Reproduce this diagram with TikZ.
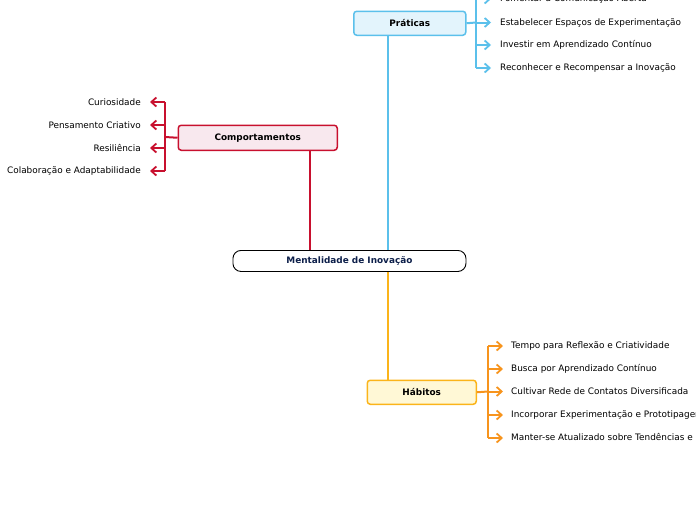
\documentclass[tikz,border=0pt]{standalone}
\usepackage{fontspec}
\setmainfont{DejaVu Sans}
\usetikzlibrary{arrows.meta}
\definecolor{blueC}{HTML}{5BC0EB}
\definecolor{blueF}{HTML}{E3F4FC}
\definecolor{redC}{HTML}{C8102E}
\definecolor{redF}{HTML}{F8E8EE}
\definecolor{goldC}{HTML}{FBB41A}
\definecolor{goldF}{HTML}{FFF8D6}
\definecolor{orangeC}{HTML}{F7941D}
\definecolor{navy}{HTML}{0D1F4A}
\tikzset{
  topic/.style={draw, line width=1.5pt, rounded corners=3pt, font=\fontsize{8.9}{10}\selectfont\bfseries, inner sep=0pt, anchor=north west},
  leaf/.style={font=\fontsize{8.9}{10}\selectfont, inner sep=0pt},
  conn/.style={line width=2pt},
  arr/.style={line width=2pt, -{Straight Barb[length=5pt,width=9pt,line width=1.8pt]}},
}
\begin{document}
\begin{tikzpicture}[x=1pt,y=-1pt]
\useasboundingbox (0,0) rectangle (696,520);
\clip (0,0) rectangle (696,520);
% central
\node[draw, line width=0.9pt, rounded corners=8pt, fill=white, minimum width=233pt, minimum height=21pt, inner sep=0pt, anchor=north west, font=\fontsize{8.9}{10}\selectfont\bfseries, text=navy] (root) at (232.5,250) {Mentalidade de Inovação};
% topics
\node[topic, draw=blueC, fill=blueF, minimum width=112pt, minimum height=24pt] (prat) at (353,10.5) {Práticas};
\node[topic, draw=redC, fill=redF, minimum width=159pt, minimum height=25pt] (comp) at (177.5,124.5) {Comportamentos};
\node[topic, draw=goldC, fill=goldF, minimum width=109pt, minimum height=24pt] (hab) at (366.5,379.5) {Hábitos};

% trunk connectors
\draw[conn, blueC] (prat.south -| 388,0) -- (root.north -| 388,0);
\draw[conn, redC] (comp.south -| 310,0) -- (root.north -| 310,0);
\draw[conn, goldC] (root.south -| 388,0) -- (hab.north -| 388,0);

% Praticas leaves
\coordinate (pj) at (476,22.5);
\draw[conn, blueC] (prat.east) -- (pj);
\draw[conn, blueC] (476,-1) -- (476,68);
\foreach \y/\t/\n in {-1/Fomentar a Comunicação Aberta/p1, 22.5/Estabelecer Espaços de Experimentação/p2, 45/Investir em Aprendizado Contínuo/p3, 68/Reconhecer e Recompensar a Inovação/p4}{
  \node[leaf, anchor=west] (\n) at (500,\y) {\t};
  \draw[arr, blueC] (476,\y) -- (491,\y);
}
% Comportamentos leaves
\coordinate (cj) at (165,137);
\draw[conn, redC] (comp.west) -- (cj);
\draw[conn, redC] (165,102) -- (165,171);
\foreach \y/\t/\n in {102/Curiosidade/c1, 125/Pensamento Criativo/c2, 148/Resiliência/c3, 171/Colaboração e Adaptabilidade/c4}{
  \node[leaf, anchor=east] (\n) at (141,\y) {\t};
  \draw[arr, redC] (165,\y) -- (150,\y);
}
% Habitos leaves
\coordinate (hj) at (488,391.5);
\draw[conn, orangeC] (hab.east) -- (hj);
\draw[conn, orangeC] (488,346) -- (488,438);
\foreach \y/\t/\n in {346/Tempo para Reflexão e Criatividade/h1, 369/Busca por Aprendizado Contínuo/h2, 391.5/Cultivar Rede de Contatos Diversificada/h3, 415/Incorporar Experimentação e Prototipagem/h4, 438/Manter-se Atualizado sobre Tendências e Inovações/h5}{
  \node[leaf, anchor=west] (\n) at (511,\y) {\t};
  \draw[arr, orangeC] (488,\y) -- (503,\y);
}
\end{tikzpicture}
\end{document}
